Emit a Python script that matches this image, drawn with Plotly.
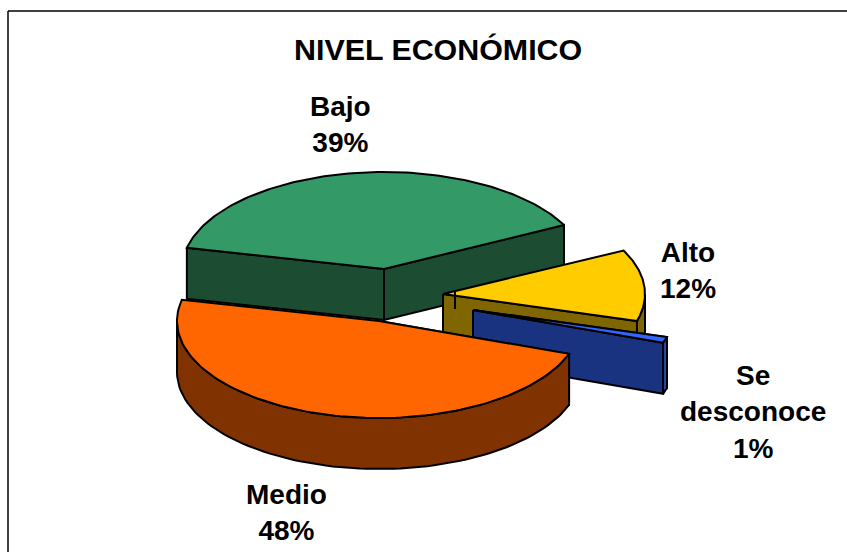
import numpy as np
import plotly.graph_objects as go

categories = ["Alto", "Se desconoce", "Medio", "Bajo"]
values = [12, 1, 48, 39]
labels = ["Alto<br>12%", "Se<br>desconoce<br>1%", "Medio<br>48%", "Bajo<br>39%"]
title = "NIVEL ECONÓMICO"
top_colors = ["#FFCC00", "#3366FF", "#FF6600", "#339966"]
side_colors = ["#806600", "#1A3380", "#803300", "#1C4D33"]
end_colors = ["#806600", "#2648B8", "#803300", "#1C4D33"]

W, H = 847, 552
RX, RY, DEPTH = 202, 97, 51
START = 27.0
centers = {"Bajo": (384, 269), "Medio": (379, 321), "Alto": (443, 294), "Se desconoce": (473, 310)}
label_pos = {"Bajo": (340, 124), "Medio": (286, 512), "Alto": (688, 270), "Se desconoce": (753, 412)}

fig = go.Figure()


def poly(xs, ys, color):
    fig.add_trace(go.Scatter(x=xs, y=ys, mode="lines", fill="toself", fillcolor=color,
                             line=dict(color="black", width=2), hoverinfo="skip", showlegend=False))


spans = {}
a = START
for c, v in zip(categories, values):
    spans[c] = (a, a - v * 3.6)
    a -= v * 3.6


def pt(c, ang):
    cx, cy = centers[c]
    t = np.radians(ang)
    return cx + RX * np.cos(t), cy - RY * np.sin(t)


for c in ["Bajo", "Alto", "Se desconoce", "Medio"]:
    i = categories.index(c)
    hi, lo = spans[c]
    cx, cy = centers[c]
    # Radial walls facing the viewer
    for ang in (hi, lo):
        x, y = pt(c, ang)
        if np.sin(np.radians(ang)) < 0 or c == "Bajo":
            poly([cx, x, x, cx, cx], [cy, y, y + DEPTH, cy + DEPTH, cy], side_colors[i])
    # Rim wall: the part of the outer arc on the near half
    angs = np.linspace(lo, hi, 90)
    angs = angs[np.sin(np.radians(angs)) <= 0.0001]
    if len(angs) > 1:
        xs, ys = pt(c, angs)
        poly(list(xs) + list(xs[::-1]) + [xs[0]],
             list(ys) + list(ys[::-1] + DEPTH) + [ys[0]], end_colors[i])
    angs = np.linspace(hi, lo, 120)
    xs, ys = pt(c, angs)
    poly([cx] + list(xs) + [cx], [cy] + list(ys) + [cy], top_colors[i])

for c, lab in zip(categories, labels):
    x, y = label_pos[c]
    fig.add_annotation(x=x, y=y, text=f"<b>{lab}</b>", showarrow=False, xanchor="center", yanchor="middle",
                       font=dict(family="Liberation Sans", size=28, color="black"))

fig.add_annotation(x=438, y=49, text=f"<b>{title}</b>", showarrow=False, xanchor="center", yanchor="middle",
                   font=dict(family="Liberation Sans", size=30.4, color="black"))

frame = dict(color="black", width=1.5)
fig.update_layout(width=W, height=H, margin=dict(l=0, r=0, t=0, b=0), paper_bgcolor="white", plot_bgcolor="white",
                  xaxis=dict(range=[0, W], visible=False), yaxis=dict(range=[H, 0], visible=False),
                  shapes=[dict(type="line", x0=8, y0=11, x1=W, y1=11, line=frame),
                          dict(type="line", x0=8, y0=11, x1=8, y1=H, line=frame),
                          dict(type="line", x0=455, y0=290, x1=455, y1=309, line=dict(color="black", width=2))],
                  showlegend=False)
fig.write_html("out.html", post_script="document.body.style.margin='0';", config={"displayModeBar": False})
